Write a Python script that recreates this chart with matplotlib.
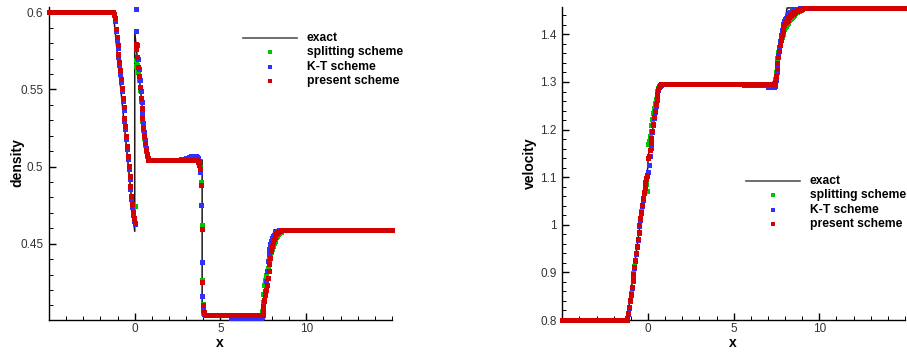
import numpy as np
import matplotlib
matplotlib.use("Agg")
import matplotlib.pyplot as plt
from matplotlib.ticker import MultipleLocator, FixedLocator, FuncFormatter

plt.rcParams['font.family'] = ['Liberation Sans', 'DejaVu Sans']

DX = 0.05  # mesh spacing

# ---------------- density ----------------
rho_exact_x = [-5.0, -1.25, 0.0, 0.0, 0.75, 3.93, 3.93, 7.42, 8.12, 15.0]
rho_exact = [0.6, 0.6, 0.458, 0.5873, 0.5043, 0.5043, 0.4036, 0.4036, 0.459, 0.459]

fan_rho_x = np.round(np.arange(-1.20, 0.001, DX), 2)       # left rarefaction
spike_rho_x = np.round(np.arange(0.05, 0.801, DX), 2)      # behind x = 0
drop_rho_x = np.round(np.arange(3.65, 4.101, DX), 2)       # jump near x = 4
rise_rho_x = np.round(np.arange(7.40, 8.701, DX), 2)       # right wave
bump_rho_x = np.round(np.arange(2.65, 3.601, DX), 2)

rho_red_fan = [0.5990, 0.5961, 0.5895, 0.5840, 0.5787, 0.5733, 0.5679, 0.5625, 0.5567,
               0.5510, 0.5446, 0.5388, 0.5316, 0.5265, 0.5200, 0.5135, 0.5071, 0.5006,
               0.4937, 0.4873, 0.4812, 0.4756, 0.4704, 0.4666, 0.4637]
rho_blue_fan = [0.5980, 0.5945, 0.5880, 0.5822, 0.5768, 0.5713, 0.5660, 0.5603, 0.5546,
                0.5490, 0.5428, 0.5368, 0.5298, 0.5245, 0.5180, 0.5115, 0.5050, 0.4985,
                0.4918, 0.4853, 0.4792, 0.4735, 0.4685, 0.4650, 0.4625]
rho_green_fan = [0.5990, 0.5958, 0.5893, 0.5838, 0.5785, 0.5731, 0.5677, 0.5622, 0.5565,
                 0.5507, 0.5444, 0.5385, 0.5314, 0.5262, 0.5198, 0.5133, 0.5068, 0.5003,
                 0.4935, 0.4871, 0.4810, 0.4752, 0.4702, 0.4664, 0.4747]

rho_red_spike = [0.5795, 0.5765, 0.5711, 0.5646, 0.5588, 0.5517, 0.5446, 0.5381,
                 0.5312, 0.5252, 0.5198, 0.5155, 0.5107, 0.5075, 0.5054, 0.5045]
rho_blue_spike = [0.6025, 0.5877, 0.5790, 0.5700, 0.5630, 0.5560, 0.5490, 0.5420,
                  0.5350, 0.5285, 0.5225, 0.5170, 0.5120, 0.5080, 0.5055, 0.5045]
rho_green_spike = [0.5653, 0.5690, 0.5660, 0.5615, 0.5560, 0.5495, 0.5428, 0.5362,
                   0.5296, 0.5236, 0.5184, 0.5140, 0.5098, 0.5068, 0.5050, 0.5044]

rho_blue_bump = [0.5045, 0.5046, 0.5047, 0.5048, 0.5049, 0.5050, 0.5052, 0.5054, 0.5056, 0.5058,
                 0.5060, 0.5062, 0.5064, 0.5066, 0.5067, 0.5068, 0.5068, 0.5067, 0.5066, 0.5064]

rho_red_drop = [0.5040, 0.5030, 0.5010, 0.4984, 0.4881, 0.4596, 0.4249, 0.4105, 0.4055, 0.4040]
rho_blue_drop = [0.5062, 0.5055, 0.5035, 0.4967, 0.4752, 0.4378, 0.4159, 0.4072, 0.4045, 0.4036]
rho_green_drop = [0.5042, 0.5035, 0.5015, 0.4995, 0.4900, 0.4620, 0.4262, 0.4110, 0.4058, 0.4040]

rho_red_rise = [0.4040, 0.4055, 0.4095, 0.4135, 0.4165, 0.4200, 0.4235, 0.4275, 0.4320,
                0.4365, 0.4410, 0.4450, 0.4485, 0.4510, 0.4528, 0.4543, 0.4555, 0.4565,
                0.4572, 0.4577, 0.4582, 0.4585, 0.4588, 0.4589, 0.4590, 0.4590, 0.4590]
rho_blue_rise = [0.4022, 0.4035, 0.4075, 0.4130, 0.4190, 0.4255, 0.4325, 0.4385, 0.4430,
                 0.4466, 0.4495, 0.4517, 0.4535, 0.4548, 0.4558, 0.4566, 0.4573, 0.4578,
                 0.4582, 0.4585, 0.4587, 0.4589, 0.4590, 0.4590, 0.4590, 0.4590, 0.4590]
rho_green_rise = [0.4065, 0.4120, 0.4175, 0.4230, 0.4265, 0.4295, 0.4320, 0.4345, 0.4372,
                  0.4398, 0.4422, 0.4445, 0.4466, 0.4486, 0.4503, 0.4518, 0.4531, 0.4543,
                  0.4553, 0.4561, 0.4568, 0.4574, 0.4579, 0.4583, 0.4586, 0.4588, 0.4590]

# constant states: (x start, x end, value)
rho_red_flat = [(-5.0, -1.25, 0.6), (0.85, 3.60, 0.5043), (4.15, 7.35, 0.4036), (8.75, 15.0, 0.459)]
rho_blue_flat = [(-5.0, -1.25, 0.6), (0.85, 2.60, 0.5043), (4.15, 5.55, 0.4036),
                 (5.60, 7.35, 0.4020), (8.75, 15.0, 0.459)]
rho_green_flat = [(-5.0, -1.25, 0.6), (0.85, 3.60, 0.5043), (4.15, 7.35, 0.4036), (8.75, 15.0, 0.459)]

# ---------------- velocity ----------------
u_exact_x = [-5.0, -1.22, -0.02, 0.02, 0.72, 7.42, 8.12, 15.0]
u_exact = [0.8, 0.8, 1.118, 1.146, 1.2955, 1.2955, 1.4555, 1.4555]

fan_u_x = np.round(np.arange(-1.20, 0.801, DX), 2)
rise_u_x = np.round(np.arange(7.00, 9.001, DX), 2)

u_red_fan = [0.8040, 0.8140, 0.8275, 0.8415, 0.8555, 0.8695, 0.8835, 0.8975, 0.9120, 0.9265,
             0.9410, 0.9555, 0.9700, 0.9845, 0.9990, 1.0135, 1.0275, 1.0415, 1.0555, 1.0690,
             1.0800, 1.0900, 1.0980, 1.1040, 1.1410, 1.1450, 1.1580, 1.1710, 1.1830, 1.1970,
             1.2126, 1.2265, 1.2390, 1.2530, 1.2650, 1.2756, 1.2845, 1.2905, 1.2935, 1.2948,
             1.2953]
u_blue_fan = [0.8030, 0.8120, 0.8250, 0.8390, 0.8530, 0.8670, 0.8810, 0.8950, 0.9095, 0.9240,
              0.9385, 0.9530, 0.9675, 0.9820, 0.9965, 1.0110, 1.0250, 1.0390, 1.0530, 1.0660,
              1.0780, 1.0880, 1.0960, 1.1020, 1.1100, 1.1250, 1.1440, 1.1620, 1.1790, 1.1940,
              1.2090, 1.2235, 1.2370, 1.2505, 1.2625, 1.2735, 1.2825, 1.2890, 1.2925, 1.2942,
              1.2950]
u_green_fan = [0.8040, 0.8145, 0.8280, 0.8420, 0.8560, 0.8700, 0.8840, 0.8980, 0.9125, 0.9270,
               0.9415, 0.9560, 0.9705, 0.9850, 0.9995, 1.0140, 1.0280, 1.0420, 1.0560, 1.0690,
               1.0790, 1.0870, 1.0850, 1.0713, 1.1690, 1.1750, 1.1860, 1.1980, 1.2100, 1.2220,
               1.2340, 1.2450, 1.2560, 1.2650, 1.2740, 1.2810, 1.2870, 1.2915, 1.2940, 1.2950,
               1.2955]

u_red_rise = [1.2955, 1.2955, 1.2955, 1.2955, 1.2955, 1.2955, 1.2955, 1.2960, 1.2990, 1.3130,
              1.3270, 1.3400, 1.3530, 1.3660, 1.3780, 1.3890, 1.3990, 1.4080, 1.4150, 1.4195,
              1.4230, 1.4258, 1.4285, 1.4310, 1.4335, 1.4360, 1.4380, 1.4400, 1.4420, 1.4437,
              1.4452, 1.4467, 1.4478, 1.4488, 1.4497, 1.4505, 1.4513, 1.4520, 1.4527, 1.4534,
              1.4540]
u_blue_rise = [1.2895, 1.2890, 1.2888, 1.2887, 1.2887, 1.2888, 1.2890, 1.2900, 1.2920, 1.3050,
               1.3210, 1.3380, 1.3560, 1.3730, 1.3870, 1.3990, 1.4090, 1.4165, 1.4225, 1.4275,
               1.4315, 1.4350, 1.4380, 1.4405, 1.4427, 1.4446, 1.4462, 1.4476, 1.4488, 1.4498,
               1.4507, 1.4515, 1.4522, 1.4528, 1.4533, 1.4538, 1.4542, 1.4546, 1.4549, 1.4552,
               1.4554]
u_green_rise = [1.2955, 1.2955, 1.2955, 1.2955, 1.2955, 1.2955, 1.2955, 1.2975, 1.3060, 1.3200,
                1.3350, 1.3500, 1.3620, 1.3720, 1.3810, 1.3890, 1.3955, 1.4010, 1.4060, 1.4105,
                1.4145, 1.4180, 1.4215, 1.4245, 1.4275, 1.4302, 1.4328, 1.4352, 1.4375, 1.4396,
                1.4415, 1.4432, 1.4447, 1.4460, 1.4472, 1.4483, 1.4493, 1.4502, 1.4511, 1.4519,
                1.4527]

u_red_flat = [(-5.0, -1.25, 0.8), (0.85, 6.95, 1.2955), (9.05, 15.0, 1.4555)]
u_blue_flat = [(-5.0, -1.25, 0.8), (0.85, 5.55, 1.2955), (5.60, 6.95, 1.2935), (9.05, 15.0, 1.4555)]
u_green_flat = [(-5.0, -1.25, 0.8), (0.85, 6.95, 1.2955), (9.05, 15.0, 1.4555)]

labels = ['exact', 'splitting scheme', 'K-T scheme', 'present scheme']
c_green, c_blue, c_red = '#00c400', '#3030ff', '#d20000'


def build(flat, pieces):
    xs, ys = [], []
    for x0, x1, v in flat:
        px = np.arange(x0, x1 + 1e-9, DX)
        xs.append(px)
        ys.append(np.full(px.size, v))
    for px, py in pieces:
        xs.append(np.asarray(px, float))
        ys.append(np.asarray(py, float))
    x = np.concatenate(xs)
    y = np.concatenate(ys)
    order = np.argsort(x, kind='stable')
    return x[order], y[order]


def draw(ax, ex, ey, green, blue, red):
    ax.plot(ex, ey, color='#1a1a1a', lw=1.1, zorder=2)
    for (x, y), c in zip([green, blue, red], [c_green, c_blue, c_red]):
        ax.plot(x, y, 's', ms=3.6, mew=0, color=c, zorder=3, clip_on=False)


def key(ax, x0, y0):
    dy = 0.0462
    tr = ax.transAxes
    ax.plot([x0, x0 + 0.157], [y0, y0], color='#555555', lw=1.2, transform=tr, clip_on=False)
    for i, c in enumerate([c_green, c_blue, c_red]):
        ax.plot([x0 + 0.0785], [y0 - (i + 1) * dy], 's', ms=3.4, mew=0, color=c,
                transform=tr, clip_on=False)
    for i, lab in enumerate(labels):
        ax.text(x0 + 0.186, y0 - i * dy, lab, transform=tr, fontsize=8.7,
                fontweight='bold', va='center', ha='left')


def style(ax, ylabel, ymin, ymax, ymajor, yminor):
    ax.set_xlim(-5, 15)
    ax.set_ylim(ymin, ymax)
    for s in ['top', 'right']:
        ax.spines[s].set_visible(False)
    for s in ['left', 'bottom']:
        ax.spines[s].set_linewidth(1.0)
    ax.xaxis.set_major_locator(FixedLocator([0, 5, 10]))
    ax.xaxis.set_minor_locator(MultipleLocator(1))
    ax.yaxis.set_major_locator(FixedLocator(ymajor))
    ax.yaxis.set_minor_locator(MultipleLocator(yminor))
    ax.yaxis.set_major_formatter(FuncFormatter(lambda v, p: f'{v:g}'))
    ax.tick_params(which='both', direction='in', top=False, right=False,
                   labelsize=8.5, labelcolor='#333333')
    ax.tick_params(axis='y', which='major', length=5, width=1.0, pad=4)
    ax.tick_params(axis='x', which='major', length=5, width=1.0, pad=2.5)
    ax.tick_params(which='minor', length=2.6, width=0.7)
    ax.set_xlabel('x', fontsize=10, fontweight='bold')
    ax.set_ylabel(ylabel, fontsize=10, fontweight='bold')
    ax.xaxis.set_label_coords(0.497, -0.052)
    ax.yaxis.set_label_coords(-0.073, 0.502)


fig = plt.figure(figsize=(9.07, 3.52), dpi=100)
ax1 = fig.add_axes([0.0540, 0.0909, 0.3782, 0.8892])
ax2 = fig.add_axes([0.6200, 0.0909, 0.3778, 0.8892])

draw(ax1, rho_exact_x, rho_exact,
     build(rho_green_flat, [(fan_rho_x, rho_green_fan), (spike_rho_x, rho_green_spike),
                            (drop_rho_x, rho_green_drop), (rise_rho_x, rho_green_rise)]),
     build(rho_blue_flat, [(fan_rho_x, rho_blue_fan), (spike_rho_x, rho_blue_spike),
                           (bump_rho_x, rho_blue_bump), (drop_rho_x, rho_blue_drop),
                           (rise_rho_x, rho_blue_rise)]),
     build(rho_red_flat, [(fan_rho_x, rho_red_fan), (spike_rho_x, rho_red_spike),
                          (drop_rho_x, rho_red_drop), (rise_rho_x, rho_red_rise)]))
style(ax1, 'density', 0.4005, 0.6035, [0.45, 0.5, 0.55, 0.6], 0.01)
key(ax1, 0.5656, 0.902)

draw(ax2, u_exact_x, u_exact,
     build(u_green_flat, [(fan_u_x, u_green_fan), (rise_u_x, u_green_rise)]),
     build(u_blue_flat, [(fan_u_x, u_blue_fan), (rise_u_x, u_blue_rise)]),
     build(u_red_flat, [(fan_u_x, u_red_fan), (rise_u_x, u_red_rise)]))
style(ax2, 'velocity', 0.8, 1.4575, [0.8, 0.9, 1.0, 1.1, 1.2, 1.3, 1.4], 0.02)
key(ax2, 0.536, 0.444)

fig.savefig('out.png', dpi=100)
